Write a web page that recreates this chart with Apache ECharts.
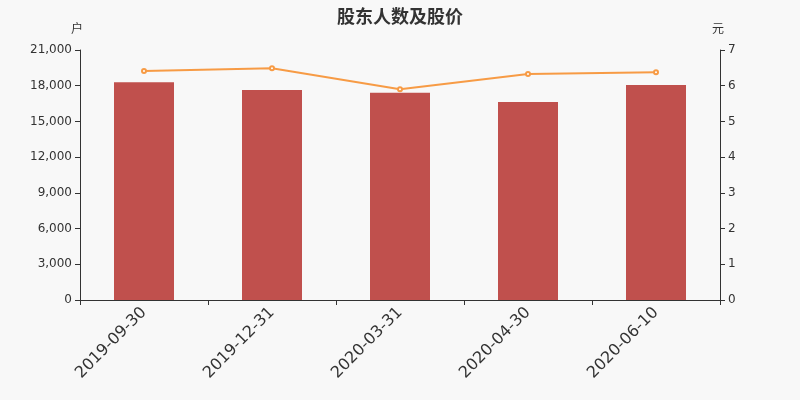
<!DOCTYPE html>
<html>
<head>
<meta charset="utf-8">
<script src="https://cdn.jsdelivr.net/npm/echarts@6/dist/echarts.min.js"></script>
<style>
  html, body { margin: 0; padding: 0; background: #f8f8f8; }
  #chart { width: 800px; height: 400px; }
</style>
</head>
<body>
<div id="chart"></div>
<script>
// 报告期
const dates = ['2019-09-30', '2019-12-31', '2020-03-31', '2020-04-30', '2020-06-10'];
// 股东户数（户）
const holders = [18300, 17640, 17410, 16630, 18060];
// 股价（元）
const prices = [6.41, 6.49, 5.90, 6.33, 6.38];

const chart = echarts.init(document.getElementById('chart'));

const axisColor = '#333';
const font = 'DejaVu Sans, sans-serif';
const cjk = 'Noto Sans CJK SC, sans-serif';

const option = {
  backgroundColor: '#f8f8f8',
  animation: false,
  title: {
    text: '股东人数及股价',
    left: 'center',
    top: 2,
    textStyle: {
      fontSize: 18,
      fontWeight: 'bold',
      color: '#333',
      fontFamily: cjk
    }
  },
  grid: {
    left: 80,
    right: 80,
    top: 50,
    bottom: 100
  },
  xAxis: {
    type: 'category',
    data: dates,
    axisLine: { lineStyle: { color: axisColor } },
    axisTick: { show: true, lineStyle: { color: axisColor } },
    axisLabel: {
      rotate: 45,
      fontSize: 16,
      color: '#333',
      fontFamily: font,
      margin: 10
    }
  },
  yAxis: [{
      type: 'value',
      name: '户',
      nameGap: 16,
      nameTextStyle: { color: '#333', fontSize: 12, align: 'center', padding: [0, 6, 0, 0], fontFamily: cjk },
      min: 0,
      max: 21000,
      interval: 3000,
      position: 'left',
      splitLine: { show: false },
      axisLine: { show: true, lineStyle: { color: axisColor } },
      axisTick: { show: true, lineStyle: { color: axisColor } },
      axisLabel: {
        color: '#333',
        fontSize: 12,
        fontFamily: font,
        formatter: v => v.toLocaleString('en-US')
      }
    },
    {
      type: 'value',
      name: '元',
      nameGap: 16,
      nameTextStyle: { color: '#333', fontSize: 12, align: 'center', padding: [0, 4, 0, 0], fontFamily: cjk },
      min: 0,
      max: 7,
      interval: 1,
      position: 'right',
      splitLine: { show: false },
      axisLine: { show: true, lineStyle: { color: axisColor } },
      axisTick: { show: true, lineStyle: { color: axisColor } },
      axisLabel: {
        color: '#333',
        fontSize: 12,
        fontFamily: font
      }
    }
  ],
  series: [{
      name: '股东户数',
      type: 'bar',
      yAxisIndex: 0,
      data: holders,
      barWidth: 60,
      itemStyle: { color: '#c0504d' }
    },
    {
      name: '股价',
      type: 'line',
      yAxisIndex: 1,
      data: prices,
      symbol: 'emptyCircle',
      symbolSize: 4,
      lineStyle: { color: '#f79b45', width: 2 },
      itemStyle: { color: '#f79b45' }
    }
  ]
};

chart.setOption(option);
</script>
</body>
</html>
